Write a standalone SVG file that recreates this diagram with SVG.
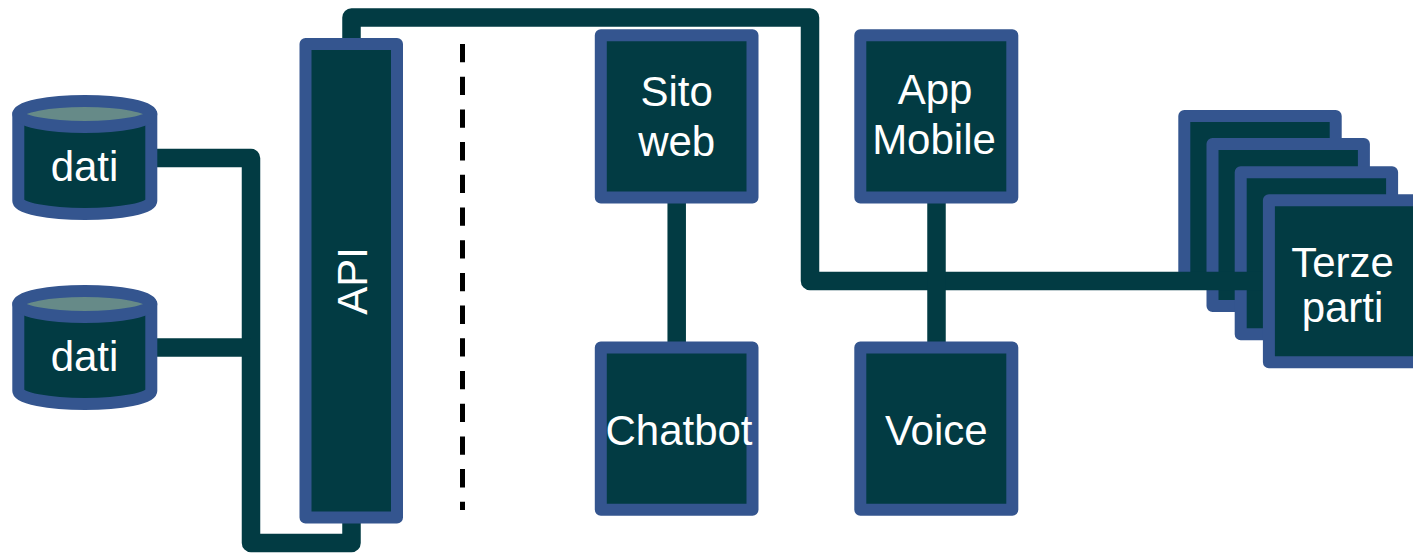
<svg xmlns="http://www.w3.org/2000/svg" width="1413" height="553" viewBox="0 0 1413 553">
<style>
.box{fill:#023B43;stroke:#34558F;stroke-width:12;stroke-linejoin:round}
.cap{fill:#668A88;stroke:#34558F;stroke-width:12}
.conn{fill:none;stroke:#023B43;stroke-width:18.5;stroke-linejoin:round;stroke-linecap:butt}
.lbl{font-family:"Liberation Sans",Arial,sans-serif;font-size:42px;fill:#FFFFFF;text-anchor:middle}
</style>
<rect width="1413" height="553" fill="#FFFFFF"/>
<g id="terze-parti-stack">
<rect class="box" x="1184.3" y="116" width="151.4" height="162"/>
<rect class="box" x="1212.5" y="144.1" width="151.4" height="162"/>
<rect class="box" x="1240.7" y="172.2" width="151.4" height="162"/>
</g>
<g id="connectors">
<path class="conn" d="M351.5,46 V17.5 H810 V281 H1270"/>
<path class="conn" d="M150,158 H251 V543 H351.5 V515"/>
<path class="conn" d="M150,347.5 H251"/>
<path class="conn" d="M676.7,200 V345"/>
<path class="conn" d="M936.5,200 V345"/>
</g>
<g id="separator">
<line x1="462.5" y1="44" x2="462.5" y2="510" stroke="#000000" stroke-width="5" stroke-dasharray="18.3 14.4"/>
</g>
<g id="dati-1">
<path class="box" d="M18.3,114 V201 A66.5,13 0 0 0 151.3,201 V114 Z"/>
<ellipse class="cap" cx="84.8" cy="114" rx="66.5" ry="13"/>
<text class="lbl" x="84.5" y="181">dati</text>
</g>
<g id="dati-2">
<path class="box" d="M18.3,304 V391 A66.5,13 0 0 0 151.3,391 V304 Z"/>
<ellipse class="cap" cx="84.8" cy="304" rx="66.5" ry="13"/>
<text class="lbl" x="84.5" y="371">dati</text>
</g>
<g id="api">
<rect class="box" x="305.5" y="44" width="91.5" height="473.5"/>
<text class="lbl" transform="translate(367,281) rotate(-90)">API</text>
</g>
<g id="sito-web">
<rect class="box" x="600.8" y="35.2" width="151.7" height="162.3"/>
<text class="lbl" x="676.7" y="106">Sito</text>
<text class="lbl" x="676.7" y="156">web</text>
</g>
<g id="app-mobile">
<rect class="box" x="860.3" y="35.2" width="152" height="162.3"/>
<text class="lbl" x="935" y="104">App</text>
<text class="lbl" x="934" y="154.3">Mobile</text>
</g>
<g id="chatbot">
<rect class="box" x="600.8" y="347.5" width="151.7" height="162.3"/>
<text class="lbl" x="679" y="445">Chatbot</text>
</g>
<g id="voice">
<rect class="box" x="860.3" y="347.5" width="152" height="162.3"/>
<text class="lbl" x="936.3" y="445">Voice</text>
</g>
<g id="terze-parti">
<rect class="box" x="1268.9" y="200.3" width="151.4" height="162"/>
<text class="lbl" x="1342.5" y="276.7">Terze</text>
<text class="lbl" x="1342.5" y="321.7">parti</text>
</g>
</svg>
